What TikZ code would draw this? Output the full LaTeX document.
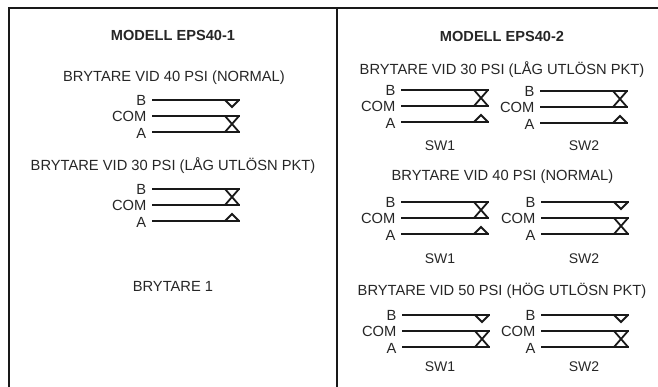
\documentclass[tikz,border=0pt]{standalone}
\usepackage{fontspec}
\setmainfont{Liberation Sans}
\tikzset{x=1pt,y=-1pt,
 frameline/.style={line width=2.4pt,color=black!90},
 wire/.style={line width=1.8pt,color=black!90,line cap=butt},
 lab/.style={font=\fontsize{14.7pt}{16pt}\selectfont,text=black!85,inner sep=0pt,text height=10.5pt,text depth=0pt},
 head/.style={lab,font=\fontsize{14.6pt}{16pt}\selectfont\bfseries},
 termlab/.style={lab,anchor=east},
 swlab/.style={lab,font=\fontsize{14pt}{16pt}\selectfont}}
\newcommand{\swb}[3]{%
 \begin{scope}[shift={(#1,#2)}]
  \node[termlab] (nb) at (-5.5,0.7) {B};
  \node[termlab] (nc) at (-5.5,16.7) {COM};
  \node[termlab] (na) at (-5.5,33) {A};
  \coordinate (eb) at (88,0); \coordinate (ec) at (88,16); \coordinate (ea) at (88,32);
  \draw[wire] (0,0) -- (eb); \draw[wire] (0,16) -- (ec); \draw[wire] (0,32) -- (ea);
  \ifnum#3=1
   \draw[wire] (73,16) -- (87,0) (73,0) -- (87,16);
   \draw[wire] (73,32) -- (80,25) -- (87,32);
  \else
   \draw[wire] (73,0) -- (80,7) -- (87,0);
   \draw[wire] (73,32) -- (87,16) (73,16) -- (87,32);
  \fi
 \end{scope}}
\begin{document}
\begin{tikzpicture}
\useasboundingbox (0,0) rectangle (658,387);
\coordinate (tl) at (9,8); \coordinate (tr) at (658,8);
\coordinate (bl) at (9,387); \coordinate (tm) at (337,8); \coordinate (bm) at (337,387);
\draw[frameline] (bl) -- (tl) -- (tr);
\draw[frameline] (tm) -- (bm);
\node[head] (h1) at (173,35.7) {MODELL EPS40-1};
\node[head] (h2) at (502,36) {MODELL EPS40-2};
\node[lab] (t1) at (174,76) {BRYTARE VID 40 PSI (NORMAL)};
\node[lab] (t2) at (173,165) {BRYTARE VID 30 PSI (LÅG UTLÖSN PKT)};
\node[lab] (t3) at (173,286.7) {BRYTARE 1};
\swb{152}{100}{2}
\swb{152}{189}{1}
\node[lab] (t4) at (502,69) {BRYTARE VID 30 PSI (LÅG UTLÖSN PKT)};
\node[lab] (t5) at (502.5,175) {BRYTARE VID 40 PSI (NORMAL)};
\node[lab] (t6) at (502,290.6) {BRYTARE VID 50 PSI (HÖG UTLÖSN PKT)};
\swb{401}{90}{1}\swb{540}{91}{1}
\swb{401}{202}{1}\swb{541}{202}{2}
\swb{402}{315}{2}\swb{541}{315}{2}
\node[swlab] (s1) at (440,145) {SW1};
\node[swlab] (s2) at (584,145) {SW2};
\node[swlab] (s3) at (440,258) {SW1};
\node[swlab] (s4) at (584,258) {SW2};
\node[swlab] (s5) at (440,366) {SW1};
\node[swlab] (s6) at (584,366) {SW2};
\end{tikzpicture}
\end{document}
